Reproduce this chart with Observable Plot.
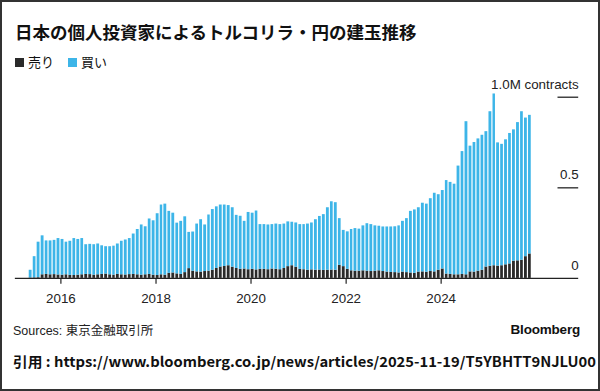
<!DOCTYPE html>
<html>
<head>
<meta charset="utf-8">
<script src="https://cdn.jsdelivr.net/npm/d3@7"></script>
<script src="https://cdn.jsdelivr.net/npm/@observablehq/plot@0.6"></script>
<style>
  html, body { margin: 0; padding: 0; background: #fff; }
  #frame { position: relative; width: 600px; height: 391px; box-sizing: border-box; border: 2px solid #333; overflow: hidden; background: #fff; }
  .abs { position: absolute; white-space: nowrap; }
  #title { left: 13px; top: 19px; font: bold 17.5px/22px "Noto Sans CJK JP", sans-serif; color: #111; }
  #legend { left: 13px; top: 51px; font: 13px/18px "Noto Sans CJK JP", sans-serif; color: #111; display: flex; align-items: center; }
  #legend .sw { display: inline-block; width: 9px; height: 9px; margin-right: 4px; }
  #legend .item { display: flex; align-items: center; margin-right: 14px; }
  #chart { left: -2px; top: 68px; }
  #source { left: 11px; top: 320px; font: 12.5px/18px "Liberation Sans", "Noto Sans CJK JP", sans-serif; color: #222; }
  #bbg { right: 18px; top: 319px; font: bold 13.5px/18px "Liberation Sans", sans-serif; color: #111; letter-spacing: -0.2px; }
  #cite { left: 11px; top: 349px; font: bold 14px/20px "Noto Sans CJK JP", sans-serif; color: #111; transform-origin: 0 50%; }
</style>
</head>
<body>
<div id="frame">
  <div id="title" class="abs">日本の個人投資家によるトルコリラ・円の建玉推移</div>
  <div id="legend" class="abs"></div>
  <div id="chart" class="abs"></div>
  <div id="source" class="abs">Sources: 東京金融取引所</div>
  <div id="bbg" class="abs">Bloomberg</div>
  <div id="cite" class="abs">引用 : https://www.bloomberg.co.jp/news/articles/2025-11-19/T5YBHTT9NJLU00</div>
</div>
<script>
// ---- data (million contracts), monthly from May 2015 ----
const startMonth = "2015-05-01";
const seriesNames = ["売り", "買い"];
const seriesColors = ["#2a2a2a", "#3db5e8"];

// top of each stacked bar (売り + 買い)
const totalOpen = [
  0.045,0.12,0.20,0.235,0.207,0.207,0.21,0.22,0.215,0.20,
  0.205,0.22,0.215,0.22,0.186,0.188,0.186,0.19,0.18,0.175,
  0.175,0.178,0.19,0.205,0.212,0.22,0.245,0.27,0.295,0.285,
  0.328,0.318,0.357,0.405,0.41,0.37,0.36,0.305,0.315,0.34,
  0.254,0.256,0.30,0.324,0.295,0.35,0.38,0.395,0.405,0.405,
  0.402,0.39,0.348,0.343,0.315,0.364,0.36,0.372,0.297,0.297,
  0.295,0.297,0.30,0.297,0.30,0.312,0.31,0.306,0.297,0.297,
  0.30,0.306,0.324,0.342,0.352,0.39,0.423,0.418,0.33,0.265,
  0.257,0.27,0.275,0.272,0.29,0.302,0.297,0.29,0.288,0.284,
  0.284,0.284,0.285,0.29,0.315,0.33,0.37,0.378,0.39,0.415,
  0.41,0.44,0.47,0.462,0.485,0.54,0.53,0.52,0.62,0.70,
  0.865,0.73,0.75,0.77,0.79,0.81,0.92,1.018,0.748,0.74,
  0.765,0.80,0.82,0.86,0.92,0.885,0.90
];
// 売り (short) open interest
const sellOpen = [
  0.002,0.003,0.004,
  0.02,0.022,0.02,0.021,0.019,0.018,0.02,0.017,
  0.016,0.018,0.02,0.022,0.021,0.018,0.02,0.022,0.024,0.02,
  0.018,0.022,0.02,0.019,0.021,0.022,0.02,0.018,0.02,0.022,
  0.018,0.016,0.02,0.018,0.028,0.03,
  0.025,0.022,0.032,0.054,0.04,
  0.036,0.035,0.038,0.04,0.045,0.055,
  0.063,0.066,0.07,0.062,0.055,
  0.05,0.052,0.048,0.05,0.047,0.05,0.05,0.048,0.052,0.05,0.048,
  0.055,0.065,0.07,0.062,
  0.05,0.048,0.045,0.047,0.045,0.046,0.044,0.045,0.046,0.045,
  0.072,0.065,0.05,
  0.042,0.04,0.04,0.042,0.04,0.038,0.04,0.042,0.038,0.035,0.033,0.032,0.03,
  0.035,0.032,0.03,0.028,0.035,0.036,0.034,
  0.038,0.036,0.045,0.052,
  0.024,0.022,0.02,0.02,0.022,0.02,
  0.036,0.035,0.04,0.045,
  0.063,0.067,0.07,0.068,0.07,
  0.075,0.08,
  0.095,0.097,0.1,
  0.12,0.135
];
const xTickYears = [2016, 2018, 2020, 2022, 2024];
const yTicks = [0, 0.5, 1];
const yTickLabels = ["0", "0.5", "1.0M contracts"];

// ---- build table ----
const start = new Date(startMonth + "T00:00:00Z");
const rows = [];
totalOpen.forEach((tot, i) => {
  const d1 = d3.utcMonth.offset(start, i);
  const d2 = d3.utcMonth.offset(start, i + 1);
  rows.push({x1: d1, x2: d2, series: "売り", value: sellOpen[i]});
  rows.push({x1: d1, x2: d2, series: "買い", value: Math.max(0, tot - sellOpen[i])});
});

// legend
const leg = document.getElementById("legend");
seriesNames.forEach((n, i) => {
  const it = document.createElement("span");
  it.className = "item";
  it.innerHTML = `<span class="sw" style="background:${seriesColors[i]}"></span><span>${n}</span>`;
  leg.appendChild(it);
});

const xDomain = [new Date(Date.UTC(2015, 0, 16)), new Date(Date.UTC(2026, 10, 23))];
const tickStart = new Date(Date.UTC(2026, 5, 17));

const plot = Plot.plot({
  width: 604,
  height: 245,
  marginLeft: 15,
  marginRight: 20,
  marginTop: 27,
  marginBottom: 35,
  style: {fontFamily: "Liberation Sans, Arial, sans-serif", fontSize: "13px", color: "#222", background: "transparent"},
  x: {type: "utc", domain: xDomain},
  y: {domain: [0, 1], axis: null},
  color: {domain: seriesNames, range: seriesColors},
  marks: [
    Plot.rectY(rows, Plot.stackY({x1: "x1", x2: "x2", y: "value", fill: "series", order: seriesNames, insetLeft: 0.2, insetRight: 1})),
    Plot.axisX({ticks: xTickYears.map(y => new Date(Date.UTC(y, 0, 1))), tickFormat: d3.utcFormat("%Y"), tickSize: 6, tickPadding: 9, stroke: "#222", strokeWidth: 1.2, fontSize: 13.5, fill: "#222"}),
    Plot.ruleY([0], {stroke: "#222", strokeWidth: 1.4}),
    Plot.ruleY(yTicks.filter(t => t > 0), {x1: tickStart, x2: xDomain[1], stroke: "#333", strokeWidth: 1.4}),
    Plot.text(yTicks, {y: d => d, text: (d, i) => yTickLabels[i], frameAnchor: "right", textAnchor: "end", dy: -13, fontSize: 13.5, fill: "#222"})
  ]
});
document.getElementById("chart").appendChild(plot);

// fit citation line width
const cite = document.getElementById("cite");
const w = cite.getBoundingClientRect().width;
cite.style.transform = `scaleX(${583 / w})`;
</script>
</body>
</html>
